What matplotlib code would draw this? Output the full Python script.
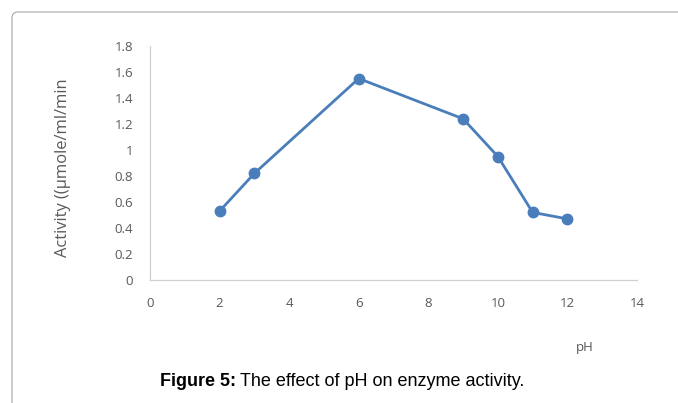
import matplotlib
matplotlib.use("Agg")
import matplotlib.pyplot as plt
from matplotlib.patches import FancyBboxPatch

ph = [2, 3, 6, 9, 10, 11, 12]
activity = [0.53, 0.82, 1.55, 1.24, 0.95, 0.52, 0.47]
xticks = [0, 2, 4, 6, 8, 10, 12, 14]
yticks = [0, 0.2, 0.4, 0.6, 0.8, 1, 1.2, 1.4, 1.6, 1.8]
ylabels = ["0", "0.2", "0.4", "0.6", "0.8", "1", "1.2", "1.4", "1.6", "1.8"]

fig = plt.figure(figsize=(6.78, 4.03), dpi=100)

# outer frame with rounded top-left corner (only top and left visible)
frame = FancyBboxPatch((0.12, -0.5), 7.0, 4.41, boxstyle="round,pad=0,rounding_size=0.06",
                       transform=fig.dpi_scale_trans, fill=False, edgecolor="#a6a6a6", linewidth=0.8)
fig.patches.append(frame)

ax = fig.add_axes([150 / 678, 1 - 280 / 403, 487 / 678, 234 / 403])
ax.plot(ph, activity, color="#4a7ebb", linewidth=2.0, marker="o", markersize=7.5,
        markerfacecolor="#4a7ebb", markeredgecolor="#4a7ebb")

ax.set_xlim(0, 14)
ax.set_ylim(0, 1.8)
ax.set_xticks(xticks)
ax.set_xticklabels([str(v) for v in xticks])
ax.set_yticks(yticks)
ax.set_yticklabels(ylabels)
for s in ["top", "right"]:
    ax.spines[s].set_visible(False)
for s in ["left", "bottom"]:
    ax.spines[s].set_color("#d0d0d0")
    ax.spines[s].set_linewidth(0.9)
ax.tick_params(axis="both", length=0, labelsize=9.5, labelcolor="#595959")
ax.tick_params(axis="y", pad=12)
ax.tick_params(axis="x", pad=12)
for lab in ax.get_xticklabels() + ax.get_yticklabels():
    lab.set_family("Open Sans")

fig.text(63 / 678, 1 - 168 / 403, "Activity ((µmole/ml/min", rotation=90, ha="center", va="center",
         fontsize=11.9, color="#595959", family="Open Sans")
fig.text(585 / 678, 1 - 347 / 403, "pH", ha="center", va="center",
         fontsize=9.5, color="#595959", family="Open Sans")

t1 = fig.text(160 / 678, 1 - 381 / 403, "Figure 5:", ha="left", va="center",
              fontsize=13, fontweight="bold", family="Liberation Sans")
fig.canvas.draw()
bb = t1.get_window_extent()
fig.text(bb.x1 / 678 + 4 / 678, 1 - 381 / 403, "The effect of pH on enzyme activity.", ha="left", va="center",
         fontsize=13, family="Liberation Sans")

fig.savefig("out.png", dpi=100)
